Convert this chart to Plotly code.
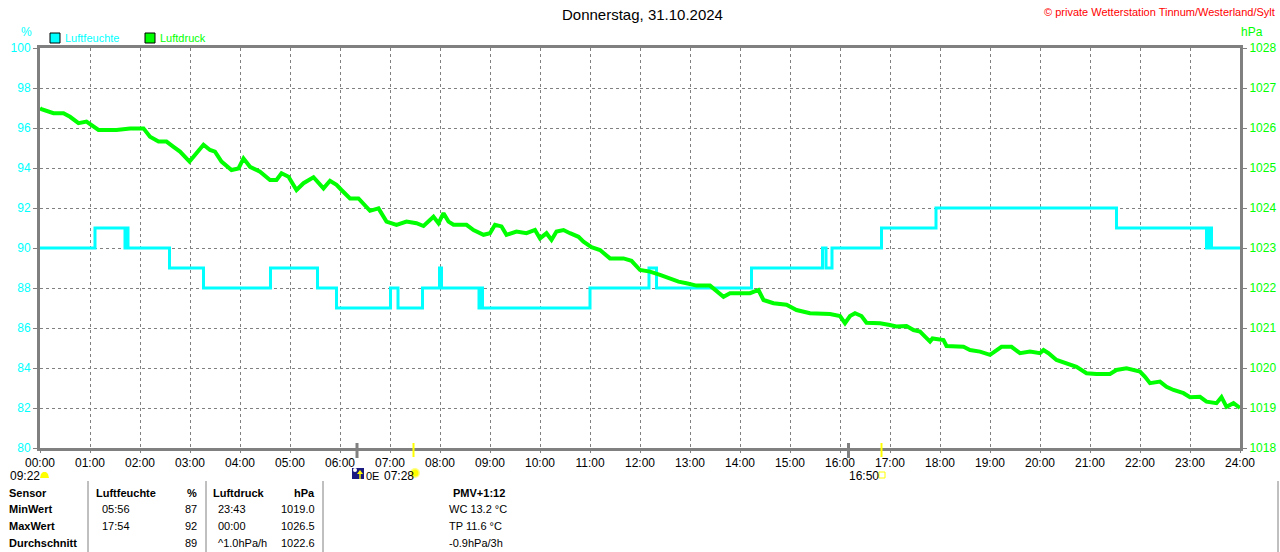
import plotly.graph_objects as go

# ---------------- data ----------------
hum_times = [0, 1.1, 1.7, 1.72, 1.76, 2.59, 3.27, 4.61, 5.55, 5.93, 7.01, 7.16, 7.65,
             7.99, 8.03, 8.78, 8.81, 8.85, 11.0, 12.18, 12.33, 14.23, 15.65, 15.72,
             15.84, 16.83, 17.92, 21.53, 23.33, 23.38, 23.43, 24]
hum_values = [90, 91, 90, 91, 90, 89, 88, 89, 88, 87, 88, 87, 88,
              89, 88, 87, 88, 87, 88, 89, 88, 89, 90, 89,
              90, 91, 92, 91, 90, 91, 90, 90]

press_times = [0.0, 0.03, 0.27, 0.47, 0.6, 0.77, 0.93, 1.17, 1.53, 1.8, 2.07, 2.2, 2.37, 2.53,
               2.67, 2.8, 2.99, 3.13, 3.27, 3.4, 3.5, 3.63, 3.83, 3.97, 4.07, 4.2, 4.4,
               4.6, 4.73, 4.83, 4.97, 5.13, 5.27, 5.47, 5.67, 5.8, 5.93, 6.03, 6.2,
               6.37, 6.53, 6.6, 6.77, 6.93, 7.13, 7.33, 7.53, 7.67, 7.87, 7.97, 8.07,
               8.17, 8.27, 8.53, 8.67, 8.87, 9.0, 9.1, 9.23, 9.33, 9.53, 9.73, 9.9,
               10.0, 10.13, 10.23, 10.33, 10.47, 10.6, 10.77, 10.87, 11.03, 11.2, 11.4,
               11.67, 11.83, 12.0, 12.2, 12.4, 12.6, 12.77, 12.93, 13.13, 13.4, 13.53,
               13.67, 13.8, 14.0, 14.2, 14.37, 14.47, 14.67, 14.93, 15.13, 15.4, 15.8,
               16.0, 16.1, 16.2, 16.3, 16.43, 16.53, 16.8, 16.97, 17.13, 17.33, 17.47,
               17.6, 17.7, 17.8, 17.85, 18.07, 18.13, 18.47, 18.6, 18.8, 19.0, 19.23,
               19.43, 19.6, 19.8, 20.0, 20.07, 20.17, 20.33, 20.53, 20.73, 20.93, 21.13,
               21.4, 21.53, 21.73, 22.0, 22.1, 22.2, 22.4, 22.53, 22.67, 22.87, 23.0,
               23.2, 23.33, 23.53, 23.63, 23.73, 23.87, 24.0]
press_values = [1026.5, 1026.47, 1026.37, 1026.37, 1026.28, 1026.12, 1026.16, 1025.95, 1025.95,
                1025.99, 1025.99, 1025.78, 1025.66, 1025.66, 1025.53, 1025.41, 1025.16,
                1025.37, 1025.58, 1025.45, 1025.41, 1025.16, 1024.95, 1024.99, 1025.24,
                1025.03, 1024.91, 1024.7, 1024.7, 1024.87, 1024.78, 1024.45, 1024.62,
                1024.77, 1024.49, 1024.68, 1024.58, 1024.45, 1024.24, 1024.24, 1024.03,
                1023.93, 1023.99, 1023.66, 1023.58, 1023.66, 1023.62, 1023.55, 1023.78,
                1023.62, 1023.87, 1023.66, 1023.58, 1023.58, 1023.45, 1023.33, 1023.37,
                1023.58, 1023.54, 1023.33, 1023.41, 1023.37, 1023.45, 1023.24, 1023.37,
                1023.2, 1023.41, 1023.45, 1023.37, 1023.28, 1023.16, 1023.02, 1022.95,
                1022.74, 1022.74, 1022.68, 1022.45, 1022.41, 1022.33, 1022.24, 1022.16,
                1022.12, 1022.06, 1022.06, 1021.91, 1021.78, 1021.87, 1021.87, 1021.87,
                1021.95, 1021.7, 1021.62, 1021.58, 1021.45, 1021.37, 1021.35, 1021.3,
                1021.12, 1021.3, 1021.37, 1021.3, 1021.13, 1021.12, 1021.08, 1021.04,
                1021.05, 1020.95, 1020.91, 1020.78, 1020.66, 1020.74, 1020.7, 1020.55,
                1020.53, 1020.45, 1020.41, 1020.33, 1020.53, 1020.53, 1020.37, 1020.41,
                1020.37, 1020.45, 1020.37, 1020.2, 1020.12, 1020.03, 1019.87, 1019.85,
                1019.85, 1019.95, 1019.99, 1019.91, 1019.78, 1019.62, 1019.66, 1019.53,
                1019.45, 1019.37, 1019.27, 1019.28, 1019.16, 1019.12, 1019.27, 1019.03,
                1019.12, 1019.0]

hour_ticks = list(range(0, 25))
hour_labels = [f"{h:02d}:00" for h in hour_ticks]
hum_ticks = list(range(80, 101, 2))
press_ticks = list(range(1018, 1029))

twilight_marks = [6.34, 16.17]
sun_marks = [7.47, 16.83]

title_text = "Donnerstag, 31.10.2024"
copyright_text = "© private Wetterstation Tinnum/Westerland/Sylt"

table_rows = [
    ["Sensor", "Luftfeuchte", "%", "Luftdruck", "hPa", "PMV+1:12"],
    ["MinWert", "05:56", "87", "23:43", "1019.0", "WC 13.2 °C"],
    ["MaxWert", "17:54", "92", "00:00", "1026.5", "TP 11.6 °C"],
    ["Durchschnitt", "", "89", "^1.0hPa/h", "1022.6", "-0.9hPa/3h"],
]

# ---------------- styling ----------------
CYAN = "#00FFFF"
GREEN = "#00FF00"
GRAY = "#808080"
YELLOW = "#FFFF00"
FONT = "Liberation Sans"
W, H = 1280, 552
L, R, T, B = 40, 1240, 48, 448


def px(x):
    return (x - L) / (R - L)


def py(y):
    return (B - y) / (B - T)


fig = go.Figure()
fig.add_trace(go.Scatter(x=hum_times, y=hum_values, mode="lines", line_shape="hv",
                         line=dict(color=CYAN, width=3), yaxis="y", showlegend=False,
                         hoverinfo="skip"))
fig.add_trace(go.Scatter(x=press_times, y=press_values, mode="lines",
                         line=dict(color=GREEN, width=4), yaxis="y2", showlegend=False,
                         hoverinfo="skip"))

fig.update_layout(
    width=W, height=H,
    margin=dict(l=L, r=W - R, t=T, b=H - B, autoexpand=False),
    paper_bgcolor="white", plot_bgcolor="white",
    font=dict(family=FONT, size=12, color="black"),
    xaxis=dict(range=[0, 24], tickvals=hour_ticks, ticktext=hour_labels,
               showgrid=True, gridcolor=GRAY, griddash="3px,3px", gridwidth=1,
               showline=True, linecolor=GRAY, linewidth=3, mirror=True,
               ticks="outside", ticklen=2, tickcolor=GRAY, automargin=False,
               tickfont=dict(size=12, color="black"), zeroline=False),
    yaxis=dict(range=[80, 100], tickvals=hum_ticks, showgrid=True, gridcolor=GRAY,
               griddash="3px,3px", gridwidth=1, showline=True, linecolor=GRAY,
               linewidth=3, ticks="outside", ticklen=4, tickcolor=GRAY, automargin=False,
               tickfont=dict(size=12, color=CYAN), zeroline=False),
    yaxis2=dict(range=[1018, 1028], tickvals=press_ticks, overlaying="y", side="right",
                showgrid=False, showline=True, linecolor=GRAY, linewidth=3,
                ticks="outside", ticklen=4, tickcolor=GRAY, automargin=False,
                tickfont=dict(size=12, color=GREEN), zeroline=False),
)

ann = []
shapes = []


def text(x, y, s, color="black", size=12, xanchor="left", bold=False, xref="paper"):
    ann.append(dict(x=x, y=y, xref=xref, yref="paper", text=f"<b>{s}</b>" if bold else s,
                    showarrow=False, xanchor=xanchor, yanchor="middle", borderpad=0,
                    font=dict(family=FONT, size=size, color=color)))


def rect(x0, y0, x1, y1, fill=None, line_color=None, lw=0, kind="rect"):
    shapes.append(dict(type=kind, xref="paper", yref="paper", x0=px(x0), x1=px(x1),
                       y0=py(y1), y1=py(y0), fillcolor=fill,
                       line=dict(color=line_color or "rgba(0,0,0,0)", width=lw)))


def path(points, fill):
    d = "M " + " L ".join(f"{px(a)},{py(b)}" for a, b in points) + " Z"
    shapes.append(dict(type="path", xref="paper", yref="paper", path=d,
                       fillcolor=fill, line=dict(width=0)))


# title and headers
text(px(642), py(15), title_text, size=15, xanchor="center")
text(px(1276), py(12), copyright_text, color="#FF0000", size=11, xanchor="right")
text(px(20), py(32), "%", color=CYAN, size=12)
text(px(1240), py(32), "hPa", color=GREEN, size=12)

# legend
rect(50, 33, 60, 43, fill=CYAN, line_color="black", lw=1)
text(px(64), py(38), "Luftfeuchte", color=CYAN, size=11)
rect(145, 33, 155, 43, fill=GREEN, line_color="black", lw=1)
text(px(159), py(38), "Luftdruck", color=GREEN, size=11)

# twilight / sun markers on axis
for t in twilight_marks:
    shapes.append(dict(type="line", xref="x", yref="paper", x0=t, x1=t,
                       y0=py(458), y1=py(443), line=dict(color=GRAY, width=3)))
for t in sun_marks:
    shapes.append(dict(type="line", xref="x", yref="paper", x0=t, x1=t,
                       y0=py(457), y1=py(443), line=dict(color=YELLOW, width=2)))

# moonset / moonrise / sunrise / sunset labels
text(px(9), py(476), "09:22", size=12)
path([(40, 478), (41, 474), (43, 472), (46, 472), (48, 474), (49, 478)], YELLOW)

rect(352, 468, 364, 479, fill="#1a1a80")
rect(353, 468, 357, 472, fill="white", kind="circle")
path([(357, 474), (360, 470), (363, 474)], YELLOW)
rect(359.3, 474, 360.7, 479, fill=YELLOW)
text(px(365), py(476), "0E", size=11)
text(px(383), py(476), "07:28", size=12)
rect(410, 468, 420, 478, fill="#FFFF80", kind="circle")
rect(411.5, 469.5, 418.5, 476.5, fill=YELLOW, kind="circle")

text(px(848), py(476), "16:50", size=12)
rect(879, 472, 885, 478, line_color=YELLOW, lw=1)

# table separators
for xs in [88, 206, 323]:
    shapes.append(dict(type="line", xref="paper", yref="paper", x0=px(xs), x1=px(xs),
                       y0=py(481), y1=py(552), line=dict(color=GRAY, width=1)))
shapes.append(dict(type="line", xref="paper", yref="paper", x0=px(1278), x1=px(1278),
                   y0=py(481), y1=py(552), line=dict(color=GRAY, width=1)))

row_y = [493, 509, 526, 543]
for i, row in enumerate(table_rows):
    hdr = i == 0
    yy = py(row_y[i])
    text(px(8), yy, row[0], bold=True, size=11)
    text(px(95 if hdr else 101), yy, row[1], bold=hdr, size=11)
    text(px(198), yy, row[2], bold=hdr, size=11, xanchor="right")
    text(px(212 if hdr else 217), yy, row[3], bold=hdr, size=11)
    text(px(316), yy, row[4], bold=hdr, size=11, xanchor="right")
    text(px(506) if hdr else px(448), yy, row[5], bold=hdr, size=11,
         xanchor="right" if hdr else "left")

fig.update_layout(annotations=ann, shapes=shapes)
fig.write_html("out.html", config={"displayModeBar": False},
               post_script="document.body.style.margin='0';"
                           "document.body.style.overflow='hidden';")
